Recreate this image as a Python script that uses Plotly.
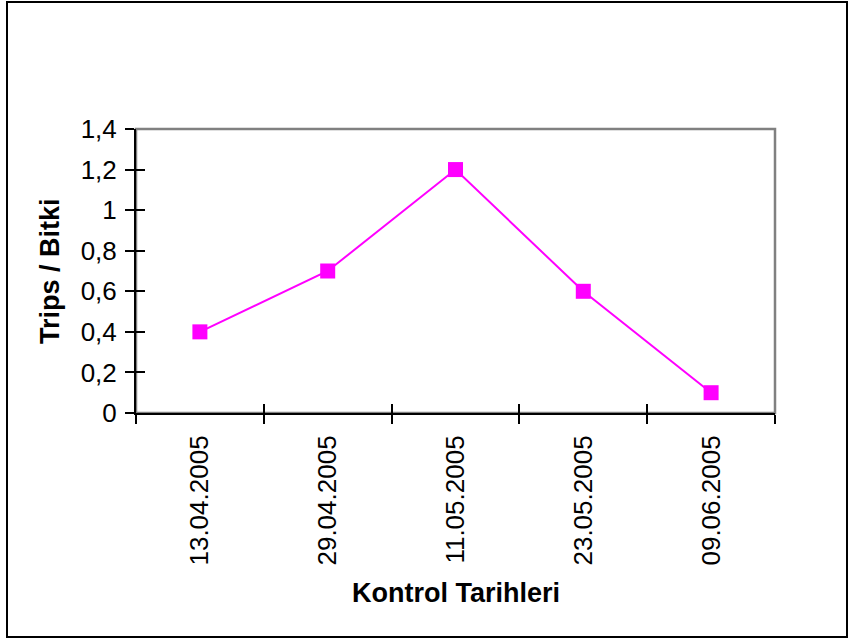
import plotly.graph_objects as go

# Thrips counts per plant on each inspection date
dates = ["13.04.2005", "29.04.2005", "11.05.2005", "23.05.2005", "09.06.2005"]
trips_per_plant = [0.4, 0.7, 1.2, 0.6, 0.1]
y_ticks = [0, 0.2, 0.4, 0.6, 0.8, 1.0, 1.2, 1.4]

W, H = 848, 639
L, R, T, B = 136, 775, 129, 413  # plot area edges in pixels


def px_x(p):
    return (p - L) / (R - L)


def px_y(p):
    return (B - p) / (B - T)


FONT = "Liberation Sans, Arial, sans-serif"

fig = go.Figure()
fig.add_trace(go.Scatter(
    x=dates, y=trips_per_plant, mode="lines+markers",
    line=dict(color="#FF00FF", width=2),
    marker=dict(symbol="square", size=15, color="#FF00FF"),
    cliponaxis=False, showlegend=False,
))
# companion trace carrying the inner half of the crossing tick marks
fig.add_trace(go.Scatter(
    x=dates, y=trips_per_plant, xaxis="x2", yaxis="y2", mode="markers",
    marker=dict(opacity=0), hoverinfo="skip", showlegend=False,
))

axis_common = dict(showgrid=False, zeroline=False, linecolor="black", linewidth=2,
                   tickcolor="black", tickwidth=1.5, ticklen=9)
inner_common = {k: v for k, v in axis_common.items() if k not in ("linecolor", "linewidth")}

fig.update_layout(
    width=W, height=H,
    margin=dict(l=L, r=W - R, t=T, b=H - B, pad=0),
    paper_bgcolor="white", plot_bgcolor="white",
    separators=",.",
    font=dict(family=FONT, color="black", size=26),
    xaxis=dict(type="category", categoryorder="array", categoryarray=dates,
               range=[-0.5, len(dates) - 0.5], ticks="outside", tickson="boundaries",
               tickangle=-90, showline=True, tickfont=dict(size=26),
               ticklabelstandoff=10, **axis_common),
    yaxis=dict(range=[0, 1.4], tickvals=y_ticks, ticks="outside", showline=True,
               tickfont=dict(size=26), ticklabelstandoff=3, **axis_common),
    xaxis2=dict(type="category", categoryorder="array", categoryarray=dates,
                overlaying="x", range=[-0.5, len(dates) - 0.5], ticks="inside",
                tickson="boundaries", showticklabels=False, showline=False,
                **inner_common),
    yaxis2=dict(overlaying="y", range=[0, 1.4], tickvals=y_ticks, ticks="inside",
                showticklabels=False, showline=False, **inner_common),
    shapes=[
        # grey frame of the plot area (top and right edges show)
        dict(type="rect", xref="paper", yref="paper", x0=0, x1=1, y0=0, y1=1,
             line=dict(color="#808080", width=2.5), layer="below"),
        # outer chart border
        dict(type="rect", xref="paper", yref="paper",
             x0=px_x(7), x1=px_x(847), y0=px_y(637), y1=px_y(2),
             line=dict(color="black", width=2), layer="below"),
    ],
    annotations=[
        dict(text="<b>Kontrol Tarihleri</b>", xref="paper", yref="paper",
             x=0.5, y=px_y(593), xanchor="center", yanchor="middle",
             showarrow=False, font=dict(size=27)),
        dict(text="<b>Trips / Bitki</b>", xref="paper", yref="paper",
             x=px_x(50), y=0.5, xanchor="center", yanchor="middle",
             textangle=-90, showarrow=False, font=dict(size=27)),
    ],
)

fig.write_html("out.html")
